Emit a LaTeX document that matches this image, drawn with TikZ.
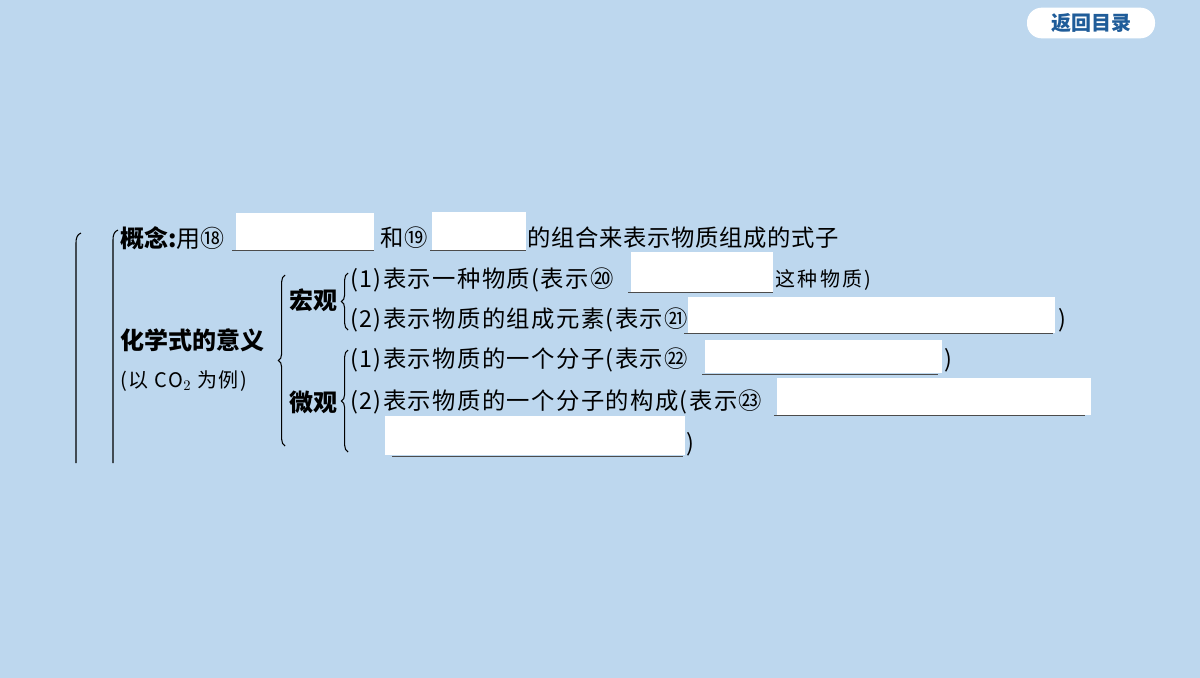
\documentclass[tikz,border=0pt]{standalone}
\usepackage{fontspec}
\setmainfont{Noto Sans CJK SC}
\usetikzlibrary{decorations.pathreplacing}
\definecolor{bg}{HTML}{BDD7EE}
\definecolor{btn}{HTML}{1F5C99}
\begin{document}
\begin{tikzpicture}[x=0.75pt,y=-0.75pt,
  t/.style={anchor=west,inner sep=0pt,font=\fontsize{17.5}{19}\selectfont\addfontfeature{LetterSpace=6}},
  b/.style={anchor=west,inner sep=0pt,font=\fontsize{18}{20}\selectfont\bfseries},
  blank/.style={fill=white,draw=none},
  ul/.style={draw=black!70,line width=0.6pt},
  br/.style={decorate,decoration={brace,amplitude=5pt},line width=0.8pt}]
\fill[bg] (0,0) rectangle (1200,678);
\useasboundingbox (0,0) rectangle (1200,678);
% button
\node[fill=white,rounded corners=11pt,minimum width=96pt,minimum height=23pt,inner sep=0pt,font=\fontsize{15}{16}\selectfont\bfseries,text=btn] (back) at (1091,23) {返回目录};
% outer brackets
\draw[line width=0.8pt] (81,233) to[out=200,in=90] (76,243) -- (76,463);
\draw[line width=0.8pt] (118,230) to[out=200,in=90] (113,240) -- (113,463);
% row concept
\node[b] (gn) at (120,238) {概念:\mdseries 用⑱};
\fill[blank] (236,213) rectangle (374,250); \draw[ul] (232,250) -- (374,250);
\node[t] (he) at (380,238) {和⑲};
\fill[blank] (432,212) rectangle (526,250); \draw[ul] (430,250) -- (526,250);
\node[t,font=\fontsize{17.5}{19}\selectfont\addfontfeature{LetterSpace=3}] (zh) at (527,238) {的组合来表示物质组成的式子};
% meaning
\node[b] (yy) at (120,340) {化学式的意义};
\node[t,font=\fontsize{15}{16}\selectfont\addfontfeature{LetterSpace=8}] (ex) at (120,381) {(以 CO$_2$ 为例)};
\draw[br] (285,446) -- (285,275);
\node[b] (hg) at (289,300) {宏观};
\draw[br] (348,330) -- (348,273);
\node[b] (wg) at (289,402) {微观};
\draw[br] (348,452) -- (348,350);
% macro rows
\node[t] (m1) at (350,280) {(1)表示一种物质(表示⑳};
\fill[blank] (631,252) rectangle (773,292); \draw[ul] (628,292) -- (773,292);
\node[t,font=\fontsize{15}{16}\selectfont\addfontfeature{LetterSpace=12}] (m1b) at (775,280) {这种物质)};
\node[t] (m2) at (350,320) {(2)表示物质的组成元素(表示㉑};
\fill[blank] (688,297) rectangle (1055,333); \draw[ul] (684,333) -- (1053,333);
\node[t] (m2b) at (1058,320) {)};
% micro rows
\node[t] (u1) at (350,360) {(1)表示物质的一个分子(表示㉒};
\fill[blank] (705,340) rectangle (942,373); \draw[ul] (702,374) -- (938,374);
\node[t] (u1b) at (944,360) {)};
\node[t] (u2) at (350,402) {(2)表示物质的一个分子的构成(表示㉓};
\fill[blank] (777,378) rectangle (1091,415); \draw[ul] (774,415) -- (1085,415);
\fill[blank] (385,416) rectangle (685,455); \draw[ul] (392,456) -- (683,456);
\node[t] (u2b) at (686,444) {)};
\end{tikzpicture}
\end{document}
